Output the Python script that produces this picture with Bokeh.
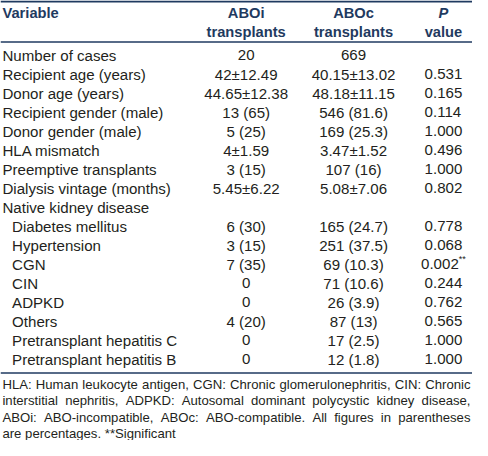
from bokeh.plotting import figure
from bokeh.models import ColumnDataSource, Range1d
from bokeh.core.properties import value
from bokeh.embed import file_html
from bokeh.resources import INLINE

# ---------------- data ----------------
header_top = ["Variable", "ABOi", "ABOc", "P"]
header_bottom = ["", "transplants", "transplants", "value"]

variables = ["Number of cases", "Recipient age (years)", "Donor age (years)",
             "Recipient gender (male)", "Donor gender (male)", "HLA mismatch",
             "Preemptive transplants", "Dialysis vintage (months)",
             "Native kidney disease", "Diabetes mellitus", "Hypertension", "CGN",
             "CIN", "ADPKD", "Others", "Pretransplant hepatitis C",
             "Pretransplant hepatitis B"]
indent = [0, 0, 0, 0, 0, 0, 0, 0, 0, 1, 1, 1, 1, 1, 1, 1, 1]
abo_i = ["20", "42±12.49", "44.65±12.38", "13 (65)", "5 (25)", "4±1.59", "3 (15)",
         "5.45±6.22", "", "6 (30)", "3 (15)", "7 (35)", "0", "0", "4 (20)", "0", "0"]
abo_c = ["669", "40.15±13.02", "48.18±11.15", "546 (81.6)", "169 (25.3)", "3.47±1.52",
         "107 (16)", "5.08±7.06", "", "165 (24.7)", "251 (37.5)", "69 (10.3)",
         "71 (10.6)", "26 (3.9)", "87 (13)", "17 (2.5)", "12 (1.8)"]
p_values = ["", "0.531", "0.165", "0.114", "1.000", "0.496", "1.000", "0.802", "",
            "0.778", "0.068", "0.002", "0.244", "0.762", "0.565", "1.000", "1.000"]
p_marks = ["", "", "", "", "", "", "", "", "", "", "", "**", "", "", "", "", ""]

footnote_lines = [
    "HLA: Human leukocyte antigen, CGN: Chronic glomerulonephritis, CIN: Chronic",
    "interstitial nephritis, ADPKD: Autosomal dominant polycystic kidney disease,",
    "ABOi: ABO-incompatible, ABOc: ABO-compatible. All figures in parentheses",
    "are percentages. **Significant",
]

# ---------------- layout ----------------
REF_W, REF_H = 488, 456
W, H = 472, 440
S = W / REF_W
FONT = value("Liberation Sans")
NAVY = "#1f3a60"
INK = "#231f20"

BODY_PX = 15.6
HEAD_PX = 15.2
NOTE_PX = 13.6
MARK_PX = 9.5

COL_X = [2, 254, 365, 458]
ROW0, ROW_STEP = 56.5, 19.7
INDENT = 10

AW = {' ': 278, '!': 278, '"': 355, '%': 889, '&': 667, "'": 191, '(': 333, ')': 333,
      '*': 389, '+': 584, ',': 278, '-': 333, '.': 278, '/': 278, ':': 278, ';': 278,
      'A': 667, 'B': 667, 'C': 722, 'D': 722, 'E': 667, 'F': 611, 'G': 778, 'H': 722,
      'I': 278, 'J': 500, 'K': 667, 'L': 556, 'M': 833, 'N': 722, 'O': 778, 'P': 667,
      'Q': 778, 'R': 722, 'S': 667, 'T': 611, 'U': 722, 'V': 667, 'W': 944, 'X': 667,
      'Y': 667, 'Z': 611, 'a': 556, 'b': 556, 'c': 500, 'd': 556, 'e': 556, 'f': 278,
      'g': 556, 'h': 556, 'i': 222, 'j': 222, 'k': 500, 'l': 222, 'm': 833, 'n': 556,
      'o': 556, 'p': 556, 'q': 556, 'r': 333, 's': 500, 't': 278, 'u': 556, 'v': 500,
      'w': 722, 'x': 500, 'y': 500, 'z': 500}


def tw(s, px):
    return sum(AW.get(c, 556) for c in s) / 1000.0 * px


def fpx(px):
    return "%.2fpx" % (px * S)


p = figure(width=W, height=H, output_backend="svg", toolbar_location=None,
           x_range=Range1d(0, REF_W), y_range=Range1d(REF_H, 0),
           x_axis_location=None, y_axis_location=None, min_border=0,
           outline_line_color=None, background_fill_color="white")
p.grid.visible = False

# rules
p.segment(x0=[0, 0, 0], x1=[REF_W, REF_W, REF_W], y0=[1, 43, 386], y1=[1, 43, 386],
          line_color=NAVY, line_width=[2, 1.5, 1.5])

# header
hx = [COL_X[0], COL_X[1], COL_X[2], COL_X[3]]
ha = ["left", "center", "center", "center"]
hs = ["bold", "bold", "bold", "bold italic"]
p.text(x=hx, y=[13] * 4, text=header_top, text_align=ha, text_baseline="middle",
       text_font=FONT, text_font_size=fpx(HEAD_PX), text_font_style=hs, text_color=NAVY)
p.text(x=hx[1:], y=[33] * 3, text=header_bottom[1:], text_align="center",
       text_baseline="middle", text_font=FONT, text_font_size=fpx(HEAD_PX),
       text_font_style="bold", text_color=NAVY)

# body
ys = [ROW0 + ROW_STEP * i for i in range(len(variables))]
src = ColumnDataSource(dict(
    y=ys, var=variables, vx=[COL_X[0] + INDENT * k for k in indent],
    a=abo_i, c=abo_c))
p.text(x="vx", y="y", text="var", source=src, text_align="left", text_baseline="middle",
       text_font=FONT, text_font_size=fpx(BODY_PX), text_color=INK)
p.text(x=COL_X[1], y="y", text="a", source=src, text_align="center",
       text_baseline="middle", text_font=FONT, text_font_size=fpx(BODY_PX), text_color=INK)
p.text(x=COL_X[2], y="y", text="c", source=src, text_align="center",
       text_baseline="middle", text_font=FONT, text_font_size=fpx(BODY_PX), text_color=INK)

px_, py_, pt_ = [], [], []
mx_, my_, mt_ = [], [], []
for pv, mk, y in zip(p_values, p_marks, ys):
    if not pv:
        continue
    w1 = tw(pv, BODY_PX)
    w2 = tw(mk, MARK_PX)
    x0 = COL_X[3] - (w1 + w2) / 2
    px_.append(x0); py_.append(y); pt_.append(pv)
    if mk:
        mx_.append(x0 + w1); my_.append(y - 5); mt_.append(mk)
p.text(x=px_, y=py_, text=pt_, text_align="left", text_baseline="middle",
       text_font=FONT, text_font_size=fpx(BODY_PX), text_color=INK)
p.text(x=mx_, y=my_, text=mt_, text_align="left", text_baseline="middle",
       text_font=FONT, text_font_size=fpx(MARK_PX), text_color=INK)

# footnote (justified)
L, R = 2, 486
NOTE_Y0, NOTE_STEP = 398, 17
nx, ny, nt = [], [], []
for li, line in enumerate(footnote_lines):
    words = line.split(" ")
    y = NOTE_Y0 + NOTE_STEP * li
    widths = [tw(w, NOTE_PX) for w in words]
    if li < len(footnote_lines) - 1 and len(words) > 1:
        gap = (R - L - sum(widths)) / (len(words) - 1)
    else:
        gap = tw(" ", NOTE_PX)
    x = L
    for w, wd in zip(words, widths):
        nx.append(x); ny.append(y); nt.append(w)
        x += wd + gap
p.text(x=nx, y=ny, text=nt, text_align="left", text_baseline="middle",
       text_font=FONT, text_font_size=fpx(NOTE_PX), text_color=INK)

open("out.html", "w").write(file_html(p, INLINE))
